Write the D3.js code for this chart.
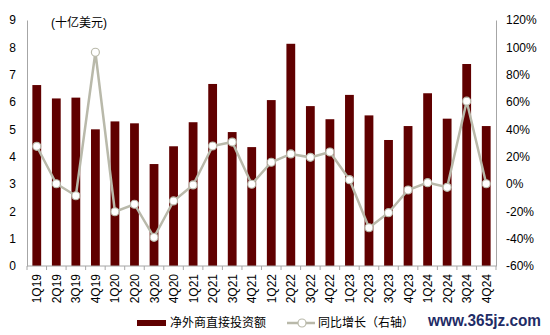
<!DOCTYPE html>
<html>
<head>
<meta charset="utf-8">
<script src="https://cdn.jsdelivr.net/npm/d3@7"></script>
<style>
  body { margin: 0; background: #fff; }
  svg { display: block; }
  text { font-family: "Liberation Sans", Arial, "Noto Sans CJK SC", sans-serif; fill: #000; }
  .cjk { font-family: "Liberation Sans", "Noto Sans CJK SC", sans-serif; }
</style>
</head>
<body>
<svg id="chart" width="550" height="335"></svg>
<script>
// Quarterly net FDI (USD bn) and its year-over-year growth (%)
const quarters = ["1Q19","2Q19","3Q19","4Q19","1Q20","2Q20","3Q20","4Q20",
                  "1Q21","2Q21","3Q21","4Q21","1Q22","2Q22","3Q22","4Q22",
                  "1Q23","2Q23","3Q23","4Q23","1Q24","2Q24","3Q24","4Q24"];
const netFdi = [6.62, 6.13, 6.16, 5.00, 5.29, 5.22, 3.73, 4.38,
                5.26, 6.66, 4.90, 4.35, 6.07, 8.13, 5.85, 5.37,
                6.26, 5.51, 4.61, 5.12, 6.32, 5.39, 7.39, 5.12];
const yoyGrowth = [27.6, 0.2, -8.6, 96.4, -20.3, -14.8, -39.0, -12.4,
                   -0.7, 27.8, 30.7, -0.2, 15.9, 22.0, 19.5, 23.4,
                   3.2, -32.0, -21.0, -4.4, 1.0, -2.4, 60.6, 0.2];
const leftTicks = [0,1,2,3,4,5,6,7,8,9];
const rightTicks = [-60,-40,-20,0,20,40,60,80,100,120];

const svg = d3.select("#chart");
const plotLeft = 27, plotRight = 496, plotTop = 20, plotBottom = 266;
const barColor = "#600000", lineColor = "#b9b9aa", axisColor = "#a6a6a6";

const x = d3.scaleBand().domain(quarters).range([plotLeft, plotRight]).paddingInner(0.55).paddingOuter(0.275);
const yL = d3.scaleLinear().domain([0, 9]).range([plotBottom, plotTop]);
const yR = d3.scaleLinear().domain([-60, 120]).range([plotBottom, plotTop]);

// bars
svg.append("g").selectAll("rect").data(quarters).join("rect")
  .attr("x", d => x(d))
  .attr("y", (d, i) => yL(netFdi[i]))
  .attr("width", x.bandwidth())
  .attr("height", (d, i) => plotBottom - yL(netFdi[i]))
  .attr("fill", barColor);

// growth line with hollow markers
const cx = d => x(d) + x.bandwidth() / 2;
const line = d3.line().x((d, i) => cx(quarters[i])).y(d => yR(d));
svg.append("path").datum(yoyGrowth)
  .attr("d", line).attr("fill", "none")
  .attr("stroke", lineColor).attr("stroke-width", 2.5);
svg.append("g").selectAll("circle").data(yoyGrowth).join("circle")
  .attr("cx", (d, i) => cx(quarters[i]))
  .attr("cy", d => yR(d))
  .attr("r", 4)
  .attr("fill", "#fff").attr("stroke", lineColor).attr("stroke-width", 1.2);

// left axis
const gL = svg.append("g").attr("transform", `translate(${plotLeft},0)`)
  .call(d3.axisLeft(yL).tickValues(leftTicks).tickSize(0).tickPadding(11));
gL.select(".domain").attr("stroke", axisColor);
gL.selectAll("text").attr("font-size", 12).attr("font-family", "Liberation Sans, Arial, sans-serif").attr("fill", "#000");

// right axis
const gR = svg.append("g").attr("transform", `translate(${plotRight},0)`)
  .call(d3.axisRight(yR).tickValues(rightTicks).tickSize(0).tickPadding(10).tickFormat(d => d + "%"));
gR.select(".domain").attr("stroke", axisColor);
gR.selectAll("text").attr("font-size", 12).attr("font-family", "Liberation Sans, Arial, sans-serif").attr("fill", "#000");

// bottom axis: ticks between categories, rotated labels
const step = x.step();
const gB = svg.append("g").attr("transform", `translate(0,${plotBottom})`);
gB.append("line").attr("x1", plotLeft).attr("x2", plotRight).attr("stroke", axisColor);
const bounds = d3.range(quarters.length + 1).map(i => plotLeft + i * step);
gB.selectAll("line.tk").data(bounds).join("line").attr("class", "tk")
  .attr("x1", d => d).attr("x2", d => d).attr("y1", 0).attr("y2", 4)
  .attr("stroke", axisColor);
gB.selectAll("text").data(quarters).join("text")
  .attr("transform", d => `translate(${cx(d) + 4.5},8) rotate(-90)`)
  .attr("text-anchor", "end")
  .attr("font-size", 12)
  .text(d => d);

// unit label
svg.append("text").attr("class", "cjk").attr("x", 51).attr("y", 27)
  .attr("font-size", 12).text("(十亿美元)");

// legend
const lg = svg.append("g");
lg.append("rect").attr("x", 137).attr("y", 320).attr("width", 29).attr("height", 6).attr("fill", barColor);
lg.append("text").attr("class", "cjk").attr("x", 170).attr("y", 327).attr("font-size", 12).text("净外商直接投资额");
lg.append("line").attr("x1", 287).attr("x2", 315).attr("y1", 323).attr("y2", 323)
  .attr("stroke", lineColor).attr("stroke-width", 2.5);
lg.append("circle").attr("cx", 302).attr("cy", 323).attr("r", 4)
  .attr("fill", "#fff").attr("stroke", lineColor).attr("stroke-width", 1.2);
lg.append("text").attr("class", "cjk").attr("x", 318).attr("y", 327).attr("font-size", 12).text("同比增长（右轴）");

// site mark
svg.append("text").attr("x", 428).attr("y", 326)
  .attr("font-family", "Liberation Serif, Times New Roman, serif")
  .attr("font-weight", "bold").attr("font-size", 16)
  .attr("textLength", 113).attr("lengthAdjust", "spacingAndGlyphs")
  .style("fill", "#1f2c66")
  .text("www.365jz.com");
</script>
</body>
</html>
